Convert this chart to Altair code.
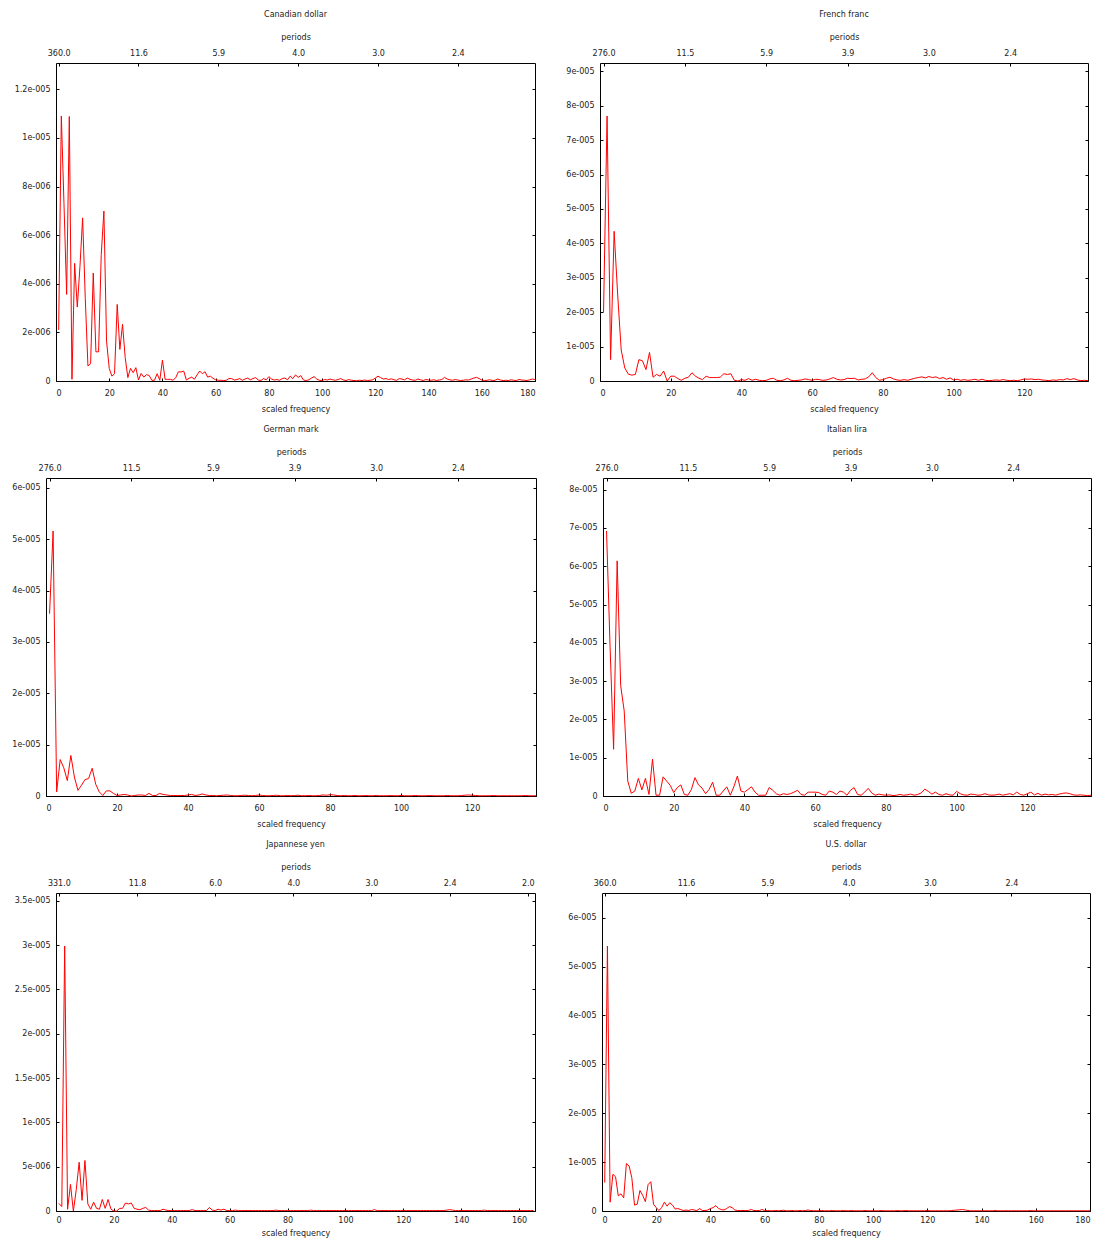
import altair as alt
import pandas as pd

FONT = "DejaVu Sans"
TXT = "#222222"

# ---- periodogram values ----
cad_unit = 1e-6
cad = [2.1, 10.9, 7.3, 3.56, 10.88, 0.07, 4.84, 3.04, 4.7, 6.71,
       3.4, 0.62, 0.71, 4.44, 1.2, 1.2, 5.2, 6.99, 1.64, 0.52,
       0.2, 0.3, 3.15, 1.3, 2.33, 0.96, 0.14, 0.52, 0.34, 0.55,
       0.04, 0.31, 0.16, 0.26, 0.23, 0.03, 0.03, 0.30, 0.03, 0.86,
       0.07, 0.07, 0.07, 0.03, 0.14, 0.38, 0.37, 0.41, 0.04, 0.11,
       0.16, 0.07, 0.25, 0.41, 0.30, 0.38, 0.16, 0.2, 0.11, 0.05,
       0.03, 0.03, 0.02, 0.03, 0.1, 0.1, 0.04, 0.06, 0.1, 0.03,
       0.08, 0.12, 0.05, 0.1, 0.14, 0.04, 0.02, 0.1, 0.05, 0.18,
       0.08, 0.04, 0.06, 0.03, 0.1, 0.12, 0.05, 0.2, 0.1, 0.25,
       0.15, 0.22, 0.04, 0.02, 0.05, 0.12, 0.18, 0.08, 0.03, 0.02,
       0.06, 0.04, 0.08, 0.05, 0.03, 0.06, 0.1, 0.04, 0.02, 0.06,
       0.03, 0.02, 0.01, 0.03, 0.02, 0.04, 0.02, 0.03, 0.05, 0.12,
       0.2, 0.14, 0.08, 0.1, 0.06, 0.09, 0.05, 0.03, 0.1, 0.08,
       0.05, 0.12, 0.07, 0.04, 0.03, 0.08, 0.05, 0.02, 0.06, 0.04,
       0.03, 0.05, 0.02, 0.04, 0.06, 0.15, 0.08, 0.05, 0.03, 0.06,
       0.04, 0.02, 0.03, 0.05, 0.04, 0.08, 0.12, 0.15, 0.1, 0.04,
       0.02, 0.03, 0.05, 0.02, 0.03, 0.08, 0.04, 0.02, 0.03, 0.02,
       0.05, 0.03, 0.02, 0.06, 0.04, 0.03, 0.02, 0.05, 0.08, 0.06]

fra_unit = 1e-5
fra = [2.0, 7.7, 0.62, 4.35, 2.5, 0.9, 0.38, 0.2, 0.17, 0.19,
       0.62, 0.59, 0.33, 0.83, 0.11, 0.19, 0.14, 0.29, 0.0, 0.14,
       0.14, 0.07, 0.02, 0.08, 0.11, 0.24, 0.14, 0.08, 0.04, 0.14,
       0.1, 0.1, 0.1, 0.11, 0.21, 0.19, 0.21, 0.02, 0.0, 0.04,
       0.02, 0.07, 0.02, 0.05, 0.02, 0.01, 0.02, 0.06, 0.08, 0.02,
       0.01, 0.03, 0.08, 0.02, 0.01, 0.02, 0.03, 0.06, 0.04, 0.02,
       0.05, 0.04, 0.02, 0.03, 0.06, 0.1, 0.05, 0.03, 0.04, 0.08,
       0.07, 0.08, 0.03, 0.05, 0.06, 0.12, 0.24, 0.1, 0.02, 0.04,
       0.08, 0.11, 0.06, 0.03, 0.02, 0.04, 0.02, 0.05, 0.08, 0.1,
       0.12, 0.09, 0.13, 0.1, 0.12, 0.07, 0.1, 0.05, 0.09, 0.03,
       0.05, 0.02, 0.04, 0.02, 0.03, 0.05, 0.02, 0.05, 0.02, 0.01,
       0.02, 0.03, 0.02, 0.04, 0.02, 0.01, 0.02, 0.01, 0.03, 0.06,
       0.05, 0.06, 0.04, 0.05, 0.03, 0.02, 0.01, 0.03, 0.02, 0.04,
       0.03, 0.07, 0.04, 0.07, 0.03, 0.01, 0.02, 0.01]

ger_unit = 1e-5
ger = [3.55, 5.16, 0.08, 0.71, 0.55, 0.3, 0.79, 0.37, 0.11, 0.21,
       0.32, 0.34, 0.54, 0.23, 0.08, 0.01, 0.1, 0.1, 0.05, 0.01,
       0.02, 0.03, 0.02, 0.0, 0.01, 0.02, 0.02, 0.01, 0.05, 0.01,
       0.01, 0.05, 0.03, 0.02, 0.01, 0.01, 0.01, 0.01, 0.01, 0.02,
       0.03, 0.01, 0.02, 0.04, 0.02, 0.01, 0.01, 0.005, 0.01, 0.015,
       0.02, 0.01, 0.005, 0.005, 0.01, 0.015, 0.01, 0.005, 0.01, 0.02,
       0.01, 0.005, 0.005, 0.01, 0.015, 0.005, 0.005, 0.01, 0.005, 0.01,
       0.015, 0.005, 0.005, 0.01, 0.005, 0.005, 0.01, 0.02, 0.015, 0.025,
       0.02, 0.01, 0.005, 0.01, 0.005, 0.005, 0.01, 0.005, 0.005, 0.01,
       0.005, 0.005, 0.01, 0.005, 0.005, 0.005, 0.01, 0.005, 0.005, 0.01,
       0.005, 0.005, 0.005, 0.01, 0.005, 0.005, 0.005, 0.01, 0.005, 0.005,
       0.005, 0.005, 0.01, 0.005, 0.005, 0.005, 0.01, 0.015, 0.02, 0.015,
       0.01, 0.005, 0.005, 0.005, 0.005, 0.01, 0.005, 0.005, 0.005, 0.005,
       0.005, 0.005, 0.005, 0.005, 0.01, 0.005, 0.005, 0.005]

ita_unit = 1e-5
ita = [6.92, 3.9, 1.22, 6.14, 2.88, 2.22, 0.39, 0.07, 0.13, 0.46,
       0.16, 0.46, 0.04, 0.96, 0.02, 0.02, 0.5, 0.39, 0.28, 0.09,
       0.22, 0.29, 0.04, 0.02, 0.17, 0.48, 0.29, 0.21, 0.06, 0.17,
       0.36, 0.02, 0.02, 0.13, 0.24, 0.02, 0.24, 0.52, 0.13, 0.1,
       0.17, 0.24, 0.1, 0.02, 0.02, 0.02, 0.22, 0.15, 0.06, 0.02,
       0.06, 0.04, 0.06, 0.1, 0.15, 0.04, 0.02, 0.1, 0.1, 0.1,
       0.09, 0.04, 0.02, 0.13, 0.1, 0.04, 0.13, 0.1, 0.02, 0.15,
       0.22, 0.04, 0.02, 0.1, 0.2, 0.08, 0.02, 0.05, 0.03, 0.02,
       0.03, 0.01, 0.02, 0.04, 0.02, 0.03, 0.05, 0.02, 0.04, 0.08,
       0.18, 0.12, 0.05, 0.1, 0.04, 0.02, 0.06, 0.03, 0.02, 0.12,
       0.06, 0.03, 0.02, 0.05, 0.04, 0.02, 0.03, 0.06, 0.03, 0.02,
       0.03, 0.05, 0.02, 0.04, 0.06, 0.03, 0.1, 0.04, 0.02, 0.06,
       0.1, 0.03, 0.07, 0.02, 0.05, 0.03, 0.04, 0.02, 0.05, 0.07,
       0.08, 0.06, 0.03, 0.02, 0.03, 0.02, 0.01, 0.02]

jpn_unit = 1e-5
jpn = [0.086, 0.05, 2.99, 0.02, 0.3, 0.0, 0.24, 0.55, 0.12, 0.57,
       0.08, 0.02, 0.1, 0.03, 0.02, 0.13, 0.03, 0.13, 0.02, 0.0,
       0.0, 0.03, 0.03, 0.09, 0.08, 0.09, 0.03, 0.02, 0.015, 0.03,
       0.04, 0.01, 0.005, 0.005, 0.005, 0.005, 0.02, 0.01, 0.005, 0.005,
       0.005, 0.005, 0.005, 0.005, 0.005, 0.005, 0.015, 0.005, 0.005, 0.005,
       0.005, 0.005, 0.04, 0.01, 0.005, 0.02, 0.01, 0.02, 0.005, 0.005,
       0.005, 0.01, 0.005, 0.005, 0.005, 0.005, 0.005, 0.005, 0.005, 0.005,
       0.005, 0.005, 0.005, 0.005, 0.005, 0.01, 0.005, 0.005, 0.005, 0.005,
       0.005, 0.005, 0.005, 0.005, 0.005, 0.005, 0.005, 0.01, 0.005, 0.005,
       0.005, 0.005, 0.005, 0.005, 0.005, 0.005, 0.005, 0.005, 0.005, 0.005,
       0.005, 0.005, 0.005, 0.005, 0.005, 0.005, 0.005, 0.005, 0.005, 0.015,
       0.005, 0.005, 0.005, 0.005, 0.005, 0.005, 0.005, 0.005, 0.005, 0.005,
       0.005, 0.005, 0.005, 0.005, 0.005, 0.005, 0.005, 0.005, 0.005, 0.005,
       0.005, 0.005, 0.005, 0.005, 0.01, 0.015, 0.01, 0.005, 0.005, 0.005,
       0.005, 0.005, 0.005, 0.005, 0.005, 0.005, 0.005, 0.01, 0.005, 0.005,
       0.005, 0.005, 0.005, 0.005, 0.005, 0.005, 0.005, 0.005, 0.005, 0.005,
       0.005, 0.005, 0.005, 0.005, 0.005]

usd_unit = 1e-5
usd = [0.58, 5.42, 0.18, 0.75, 0.70, 0.31, 0.35, 0.27, 0.97, 0.92,
       0.68, 0.12, 0.14, 0.42, 0.32, 0.19, 0.54, 0.6, 0.14, 0.07,
       0.01, 0.07, 0.18, 0.1, 0.17, 0.12, 0.04, 0.05, 0.03, 0.01,
       0.02, 0.01, 0.03, 0.02, 0.01, 0.05, 0.01, 0.01, 0.02, 0.05,
       0.07, 0.11, 0.05, 0.03, 0.02, 0.05, 0.09, 0.07, 0.02, 0.01,
       0.01, 0.01, 0.01, 0.01, 0.03, 0.01, 0.01, 0.01, 0.03, 0.01,
       0.01, 0.005, 0.005, 0.01, 0.005, 0.01, 0.015, 0.005, 0.005, 0.01,
       0.005, 0.005, 0.01, 0.005, 0.01, 0.02, 0.01, 0.005, 0.005, 0.005,
       0.01, 0.005, 0.005, 0.005, 0.01, 0.005, 0.005, 0.005, 0.01, 0.005,
       0.005, 0.01, 0.005, 0.005, 0.005, 0.005, 0.01, 0.005, 0.005, 0.005,
       0.005, 0.005, 0.01, 0.005, 0.005, 0.005, 0.005, 0.005, 0.01, 0.005,
       0.005, 0.01, 0.005, 0.005, 0.005, 0.005, 0.005, 0.005, 0.005, 0.01,
       0.005, 0.005, 0.005, 0.005, 0.005, 0.005, 0.005, 0.005, 0.01, 0.015,
       0.02, 0.025, 0.03, 0.02, 0.01, 0.005, 0.005, 0.005, 0.005, 0.005,
       0.005, 0.005, 0.005, 0.005, 0.01, 0.005, 0.005, 0.005, 0.005, 0.005,
       0.005, 0.005, 0.005, 0.005, 0.005, 0.005, 0.005, 0.01, 0.005, 0.005,
       0.005, 0.005, 0.005, 0.005, 0.005, 0.005, 0.005, 0.005, 0.005, 0.005,
       0.005, 0.005, 0.005, 0.005, 0.005, 0.005, 0.005, 0.005, 0.005, 0.005]

# ---- ticks ----
xt_180 = [0, 20, 40, 60, 80, 100, 120, 140, 160, 180]
xt_138 = [0, 20, 40, 60, 80, 100, 120]
xt_165 = [0, 20, 40, 60, 80, 100, 120, 140, 160]
pt_360 = [1, 31, 61, 91, 121, 151]
pt_276 = [1, 24, 47, 70, 93, 116]
pt_331 = [1, 28, 55, 82, 109, 136, 163]
yt_cad = [0, 2e-6, 4e-6, 6e-6, 8e-6, 1e-5, 1.2e-5]
yt_fra = [0, 1e-5, 2e-5, 3e-5, 4e-5, 5e-5, 6e-5, 7e-5, 8e-5, 9e-5]
yt_ger = [0, 1e-5, 2e-5, 3e-5, 4e-5, 5e-5, 6e-5]
yt_ita = [0, 1e-5, 2e-5, 3e-5, 4e-5, 5e-5, 6e-5, 7e-5, 8e-5]
yt_jpn = [0, 5e-6, 1e-5, 1.5e-5, 2e-5, 2.5e-5, 3e-5, 3.5e-5]
yt_usd = [0, 1e-5, 2e-5, 3e-5, 4e-5, 5e-5, 6e-5]

YLAB = "datum.value == 0 ? '0' : replace(format(datum.value, '.2~e'), 'e-', 'e-00')"
TICK = 3
TXTSTYLE = dict(labelFont=FONT, labelFontSize=8, labelColor=TXT,
                titleFont=FONT, titleFontSize=8, titleFontWeight="normal",
                titleColor=TXT, tickColor="black", grid=False, domain=False)


def panel(title, vals, unit, n, xmax, xticks, pticks, yticks, w, h, ext,
          lpad=8, tpad=8):
    df = pd.DataFrame({"f": list(range(1, len(vals) + 1)),
                       "v": [v * unit for v in vals]})
    ymax = 1.2 * max(df["v"])
    xs = alt.Scale(domain=[0, xmax], nice=False, zero=False)
    ys = alt.Scale(domain=[0, ymax], nice=False, zero=False)
    base = alt.Chart(df)

    line = base.mark_line(color="#ff0000", strokeWidth=1).encode(
        x=alt.X("f:Q", scale=xs, axis=alt.Axis(
            orient="bottom", values=xticks, ticks=False, tickSize=0,
            title="scaled frequency", labelPadding=lpad, titlePadding=tpad,
            **TXTSTYLE)),
        y=alt.Y("v:Q", scale=ys, axis=alt.Axis(
            orient="left", values=yticks, labelExpr=YLAB, ticks=False,
            tickSize=0, title=None, labelPadding=6,
            minExtent=ext, maxExtent=ext, **TXTSTYLE)),
    )
    top = base.mark_line(opacity=0).encode(
        x=alt.X("f:Q", scale=xs, axis=alt.Axis(
            orient="top", values=pticks,
            labelExpr=f"format({n}/datum.value, '.1f')",
            ticks=False, tickSize=0, title="periods",
            labelPadding=6, titlePadding=8, **TXTSTYLE)),
        y=alt.Y("v:Q", scale=ys, axis=alt.Axis(
            orient="right", offset=-w, values=yticks, labels=False,
            tickSize=TICK, title=None, minExtent=0, maxExtent=0, **TXTSTYLE)),
    )
    inner1 = base.mark_line(opacity=0).encode(
        x=alt.X("f:Q", scale=xs, axis=alt.Axis(
            orient="top", offset=-h, values=xticks, labels=False,
            tickSize=TICK, title=None, **TXTSTYLE)),
        y=alt.Y("v:Q", scale=ys, axis=alt.Axis(
            orient="left", offset=-w, values=yticks, labels=False,
            tickSize=TICK, title=None, minExtent=0, maxExtent=0, **TXTSTYLE)),
    )
    inner2 = base.mark_line(opacity=0).encode(
        x=alt.X("f:Q", scale=xs, axis=alt.Axis(
            orient="bottom", offset=-h, values=pticks, labels=False,
            tickSize=TICK, title=None, **TXTSTYLE)),
        y=alt.Y("v:Q", scale=ys, axis=None),
    )
    return alt.layer(line, top, inner1, inner2).resolve_axis(
        x="independent", y="independent"
    ).properties(
        width=w, height=h,
        title=alt.TitleParams(text=title, fontSize=8, font=FONT,
                              fontWeight="normal", color=TXT, offset=14,
                              frame="group", anchor="middle"),
    )


def spacer():
    return alt.Chart(pd.DataFrame({"s": [0]})).mark_point(
        size=0, strokeWidth=0, opacity=0
    ).encode(
        x=alt.value(0), y=alt.value(0)
    ).properties(width=1, height=1, view=alt.ViewBackground(stroke="transparent"))


p_cad = panel("Canadian dollar", cad, cad_unit, 360, 180, xt_180, pt_360, yt_cad, 479, 318, 44)
p_fra = panel("French franc", fra, fra_unit, 276, 138, xt_138, pt_276, yt_fra, 488, 318, 61)
p_ger = panel("German mark", ger, ger_unit, 276, 138, xt_138, pt_276, yt_ger, 490, 318, 33)
p_ita = panel("Italian lira", ita, ita_unit, 276, 138, xt_138, pt_276, yt_ita, 488, 318, 63)
p_jpn = panel("Japannese yen", jpn, jpn_unit, 331, 165.5, xt_165, pt_331, yt_jpn, 479, 318, 44,
              lpad=5, tpad=5)
p_usd = panel("U.S. dollar", usd, usd_unit, 360, 180, xt_180, pt_360, yt_usd, 488, 318, 64,
              lpad=5, tpad=5)

row1 = alt.hconcat(spacer(), p_cad, p_fra, spacing=0)
row2 = alt.hconcat(spacer(), p_ger, p_ita, spacing=0)
row3 = alt.hconcat(spacer(), p_jpn, p_usd, spacing=0)

chart = alt.vconcat(row1, row2, row3, spacing=11).properties(
    padding={"left": 0, "top": 2, "right": 0, "bottom": 0}
).configure_view(
    stroke="black", strokeWidth=1
)

chart.save("out.html", embed_options={"renderer": "svg", "actions": False})
